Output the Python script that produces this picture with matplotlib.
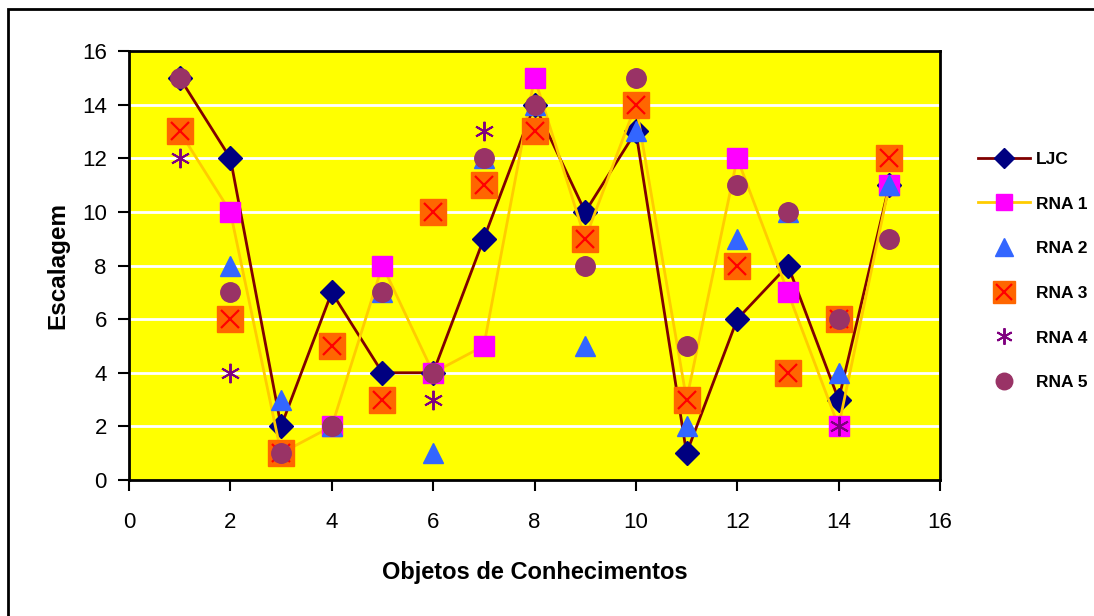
import matplotlib
matplotlib.use("Agg")
import matplotlib.pyplot as plt
from matplotlib.patches import Rectangle
from matplotlib.legend_handler import HandlerTuple
from matplotlib import font_manager

objetos = list(range(1, 16))
ljc = [15, 12, 2, 7, 4, 4, 9, 14, 10, 13, 1, 6, 8, 3, 11]
rna1 = [13, 10, 1, 2, 8, 4, 5, 15, 9, 14, 3, 12, 7, 2, 11]
rna2 = [13, 8, 3, 2, 7, 1, 12, 14, 5, 13, 2, 9, 10, 4, 11]
rna3 = [13, 6, 1, 5, 3, 10, 11, 13, 9, 14, 3, 8, 4, 6, 12]
rna4 = [12, 4, 1, 2, 7, 3, 13, 14, 8, 15, 5, 11, 10, 2, 9]
rna5 = [15, 7, 1, 2, 7, 4, 12, 14, 8, 15, 5, 11, 10, 6, 9]
series_names = ["LJC", "RNA 1", "RNA 2", "RNA 3", "RNA 4", "RNA 5"]
x_ticks = [0, 2, 4, 6, 8, 10, 12, 14, 16]
y_ticks = [0, 2, 4, 6, 8, 10, 12, 14, 16]

names = {f.name for f in font_manager.fontManager.ttflist}
base_font = "Liberation Sans" if "Liberation Sans" in names else "DejaVu Sans"
plt.rcParams["font.family"] = [base_font, "DejaVu Sans"]

W, H = 1094, 616
fig = plt.figure(figsize=(W / 100, H / 100), dpi=100)
fig.patch.set_facecolor("white")

# outer chart frame (runs off the right and bottom edges)
fig.add_artist(Rectangle((8 / W, -0.05), 1.1, 1.05 - 9 / H,
                         transform=fig.transFigure, fill=False,
                         edgecolor="black", linewidth=2))

left, right, top, bottom = 129, 940, 51, 480
ax = fig.add_axes([left / W, 1 - bottom / H, (right - left) / W, (bottom - top) / H])
ax.set_facecolor("#FFFF00")
ax.set_xlim(0, 16)
ax.set_ylim(0, 16)
ax.set_xticks(x_ticks)
ax.set_yticks(y_ticks)
ax.tick_params(direction="out", length=8, width=1.5, labelsize=16)
ax.tick_params(axis="x", pad=15)
ax.tick_params(axis="y", pad=8)
for s in ax.spines.values():
    s.set_linewidth(2)
    s.set_color("black")
for yv in y_ticks[1:-1]:
    ax.axhline(yv, color="white", linewidth=2, zorder=1)

l0, = ax.plot(objetos, ljc, color="#800000", linewidth=2, marker="D",
              markersize=12, markerfacecolor="#000080", markeredgecolor="#000080",
              zorder=3)
l1, = ax.plot(objetos, rna1, color="#FFCC00", linewidth=2, marker="s",
              markersize=14, markerfacecolor="#FF00FF", markeredgecolor="#FF00FF",
              zorder=4)
l2, = ax.plot(objetos, rna2, linestyle="none", marker="^", markersize=15,
              markerfacecolor="#3366FF", markeredgecolor="#3366FF", zorder=5)
l3a, = ax.plot(objetos, rna3, linestyle="none", marker="s", markersize=19,
               markerfacecolor="#FF6600", markeredgecolor="#FF6600", zorder=6)
l3b, = ax.plot(objetos, rna3, linestyle="none", marker="x", markersize=13,
               markeredgewidth=1.6, color="#FF0000", zorder=6)
l4, = ax.plot(objetos, rna4, linestyle="none", marker=(6, 2, 0), markersize=14,
              markeredgewidth=1.4, color="#800080", zorder=7)
l5, = ax.plot(objetos, rna5, linestyle="none", marker="o", markersize=14,
              markerfacecolor="#993366", markeredgecolor="#993366", zorder=8)

ax.set_xlabel("Objetos de Conhecimentos", fontsize=17, fontweight="bold",
              labelpad=20)
ax.set_ylabel("Escalagem", fontsize=17.5, fontweight="bold", labelpad=9)

leg = fig.legend([l0, l1, l2, (l3a, l3b), l4, l5], series_names,
                 handler_map={tuple: HandlerTuple(ndivide=1, pad=0)},
                 loc="center left", bbox_to_anchor=(962 / W, 1 - 271 / H),
                 frameon=False, labelspacing=1.7, handlelength=3.0,
                 handletextpad=0.35, markerscale=0.85, borderpad=0.4,
                 prop={"weight": "bold", "size": 12.5})

fig.savefig("out.png", dpi=100)
